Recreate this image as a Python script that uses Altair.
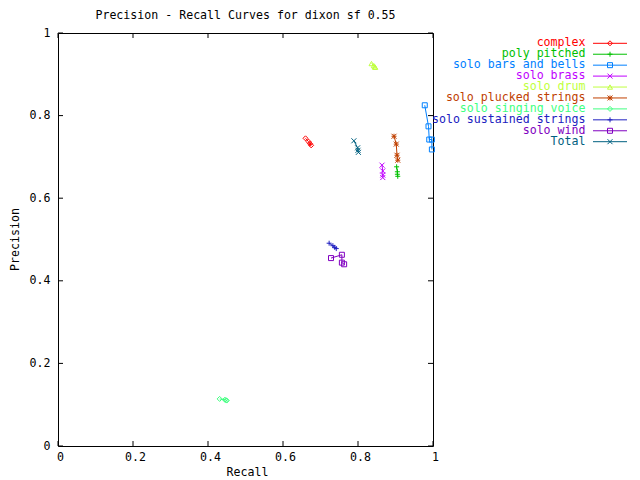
import altair as alt
import pandas as pd

FONT = "DejaVu Sans Mono"
FS = 11.6

series = ["complex", "poly pitched", "solo bars and bells", "solo brass", "solo drum",
          "solo plucked strings", "solo singing voice", "solo sustained strings",
          "solo wind", "Total"]
colors = ["#ff0000", "#00c000", "#0080ff", "#c000ff", "#c0ff40",
          "#c04000", "#40ff80", "#2020c0", "#8000c0", "#006080"]
shapes_pt = ["diamond", "M-1,0H1M0,-1V1", "square", "M-1,-1L1,1M-1,1L1,-1", "triangle-up",
             "M-1,0H1M0,-1V1M-1,-1L1,1M-1,1L1,-1", "diamond", "M-1,0H1M0,-1V1", "square",
             "M-1,-1L1,1M-1,1L1,-1"]

recall = {
    "complex": [0.660, 0.668, 0.672, 0.675],
    "poly pitched": [0.903, 0.905, 0.905, 0.906],
    "solo bars and bells": [0.978, 0.988, 0.990, 0.997, 0.997],
    "solo brass": [0.864, 0.866, 0.866, 0.866],
    "solo drum": [0.836, 0.842, 0.845, 0.846],
    "solo plucked strings": [0.896, 0.902, 0.904, 0.906],
    "solo singing voice": [0.431, 0.445, 0.448, 0.450],
    "solo sustained strings": [0.723, 0.733, 0.738, 0.742],
    "solo wind": [0.728, 0.757, 0.757, 0.763],
    "Total": [0.789, 0.799, 0.800, 0.801],
}
precision = {
    "complex": [0.745, 0.737, 0.732, 0.728],
    "poly pitched": [0.676, 0.664, 0.658, 0.653],
    "solo bars and bells": [0.825, 0.774, 0.742, 0.742, 0.718],
    "solo brass": [0.680, 0.666, 0.656, 0.650],
    "solo drum": [0.926, 0.921, 0.918, 0.917],
    "solo plucked strings": [0.750, 0.731, 0.704, 0.692],
    "solo singing voice": [0.114, 0.112, 0.111, 0.110],
    "solo sustained strings": [0.491, 0.485, 0.481, 0.478],
    "solo wind": [0.455, 0.463, 0.444, 0.440],
    "Total": [0.739, 0.722, 0.716, 0.711],
}
tick_values = [0, 0.2, 0.4, 0.6, 0.8, 1.0]
chart_title = "Precision - Recall Curves for dixon sf 0.55"
x_title = "Recall"
y_title = "Precision"

rows = []
for s in series:
    for i, (r, p) in enumerate(zip(recall[s], precision[s])):
        rows.append({"series": s, "idx": i, "recall": r, "precision": p})
df = pd.DataFrame(rows)
legend_df = pd.DataFrame({"series": series, "row": list(range(len(series)))})
ticks_df = pd.DataFrame({"v": tick_values})

W, H = 375, 413
color_scale = alt.Scale(domain=series, range=colors)
shape_scale = alt.Scale(domain=series, range=shapes_pt)

xax = alt.Axis(title=None, values=tick_values, format=".1~f", labelFlush=False,
               labelOverlap=False, labelBaseline="middle", labelPadding=11.7, labelOffset=2,
               grid=False, domain=False, ticks=False)
yax = alt.Axis(title=None, values=tick_values, format=".1~f", labelFlush=False,
               labelOverlap=False, labelPadding=8,
               grid=False, domain=False, ticks=False)
xs = alt.Scale(domain=[0, 1], nice=False, zero=False)
ys = alt.Scale(domain=[0, 1], nice=False, zero=False)

base = alt.Chart(df)
lines = base.mark_line(strokeWidth=1).encode(
    x=alt.X("recall:Q", scale=xs, axis=xax),
    y=alt.Y("precision:Q", scale=ys, axis=yax),
    color=alt.Color("series:N", scale=color_scale, legend=None),
    detail="series:N",
    order="idx:Q",
)
points = base.mark_point(filled=False, strokeWidth=1, size=25, opacity=1).encode(
    x=alt.X("recall:Q", scale=xs, axis=xax),
    y=alt.Y("precision:Q", scale=ys, axis=yax),
    color=alt.Color("series:N", scale=color_scale, legend=None),
    shape=alt.Shape("series:N", scale=shape_scale, legend=None),
)
tk = alt.Chart(ticks_df)
xt_bottom = tk.mark_rule(color="black", strokeWidth=1).encode(
    x=alt.X("v:Q", scale=xs, axis=xax), y=alt.value(H), y2=alt.value(H - 5))
xt_top = tk.mark_rule(color="black", strokeWidth=1).encode(
    x=alt.X("v:Q", scale=xs, axis=xax), y=alt.value(0), y2=alt.value(5))
yt_left = tk.mark_rule(color="black", strokeWidth=1).encode(
    y=alt.Y("v:Q", scale=ys, axis=yax), x=alt.value(0), x2=alt.value(5))
yt_right = tk.mark_rule(color="black", strokeWidth=1).encode(
    y=alt.Y("v:Q", scale=ys, axis=yax), x=alt.value(W), x2=alt.value(W - 5))

main = alt.layer(lines, points, xt_bottom, xt_top, yt_left, yt_right)

ly = alt.Y("row:Q", scale=alt.Scale(domain=[0, 9], range=[10.3, 108.7]), axis=None)
lg = alt.Chart(legend_df)
leg_text = lg.mark_text(align="right", baseline="middle", font=FONT, fontSize=FS).encode(
    x=alt.value(527.5), y=ly, text="series:N",
    color=alt.Color("series:N", scale=color_scale, legend=None))
leg_line = lg.mark_rule(strokeWidth=1).encode(
    x=alt.value(535), x2=alt.value(569), y=ly,
    color=alt.Color("series:N", scale=color_scale, legend=None))
leg_pt = lg.mark_point(filled=False, strokeWidth=1, size=25, opacity=1).encode(
    x=alt.value(552), y=ly,
    color=alt.Color("series:N", scale=color_scale, legend=None),
    shape=alt.Shape("series:N", scale=shape_scale, legend=None))

txt_df = pd.DataFrame({"t": [chart_title]})
title_mark = alt.Chart(txt_df).mark_text(
    align="center", baseline="middle", font=FONT, fontSize=FS, color="black"
).encode(x=alt.value(W / 2), y=alt.value(-17.3), text="t:N")
xt_df = pd.DataFrame({"t": [x_title]})
xtitle_mark = alt.Chart(xt_df).mark_text(
    align="center", baseline="middle", font=FONT, fontSize=FS, color="black"
).encode(x=alt.value(W / 2 + 2), y=alt.value(H + 26.5), text="t:N")
yt_df = pd.DataFrame({"t": [y_title]})
ytitle_mark = alt.Chart(yt_df).mark_text(
    align="center", baseline="middle", font=FONT, fontSize=FS, color="black", angle=270
).encode(x=alt.value(-42), y=alt.value(H / 2), text="t:N")
legend = alt.layer(leg_text, leg_line, leg_pt, title_mark, xtitle_mark, ytitle_mark)

chart = alt.layer(main, legend).resolve_scale(y="independent").properties(
    width=W, height=H,
    background="white",
    autosize=alt.AutoSizeParams(type="none"),
    padding={"left": 50, "top": 25, "right": 199, "bottom": 34},
).configure_view(stroke="black", strokeWidth=1).configure_axis(
    grid=False, domain=False, ticks=False, tickSize=0,
    labelFont=FONT, labelFontSize=FS, labelColor="black",
)

chart.save("out.html", embed_options={"renderer": "svg", "actions": False})
